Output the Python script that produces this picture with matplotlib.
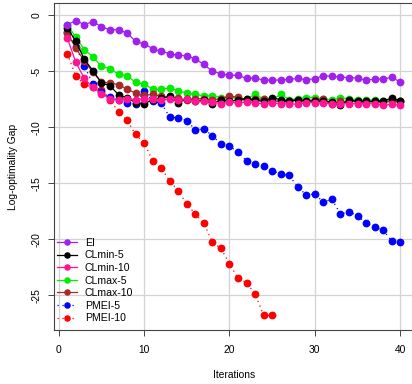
import numpy as np
import matplotlib
matplotlib.use("Agg")
import matplotlib.pyplot as plt

plt.rcParams['font.family'] = ['Liberation Sans', 'DejaVu Sans']

# values (log-optimality gap per iteration)
ei = [-0.85, -0.49, -0.85, -0.58, -1.05, -1.3, -1.3, -1.6, -2.34, -2.57,
      -2.99, -3.23, -3.44, -3.59, -3.62, -3.91, -4.4, -5.02, -5.22, -5.37,
      -5.37, -5.64, -5.61, -5.79, -5.79, -5.79, -5.73, -5.64, -5.76, -5.67,
      -5.4, -5.46, -5.52, -5.58, -5.61, -5.82, -5.7, -5.7, -5.55, -5.96]
clmin5 = [-1.14, -2.34, -3.95, -4.95, -6.05, -6.3, -7.1, -7.4, -7.8, -7.9,
          -7.55, -7.4, -7.25, -7.85, -7.45, -7.7, -7.6, -7.93, -7.55, -7.7,
          -7.55, -7.45, -7.55, -7.7, -7.35, -7.55, -7.65, -7.55, -7.65, -7.65,
          -7.7, -7.75, -8.05, -7.55, -7.7, -7.7, -7.7, -7.65, -7.4, -7.63]
clmin10 = [-2.04, -4.22, -5.65, -6.44, -7.0, -7.46, -7.55, -7.45, -7.54, -7.45,
           -7.5, -7.55, -7.5, -7.6, -7.5, -7.7, -7.7, -7.75, -7.9, -7.75,
           -7.85, -7.75, -7.85, -7.9, -7.85, -7.9, -7.9, -7.95, -7.8, -7.8,
           -7.85, -7.9, -7.9, -7.9, -7.9, -7.9, -7.9, -8.05, -7.95, -8.05]
clmax5 = [-0.85, -1.98, -3.08, -3.74, -4.57, -4.78, -5.28, -5.4, -6.0, -6.15,
          -6.6, -6.62, -6.5, -6.75, -6.95, -7.07, -7.2, -7.2, -7.35, -7.3,
          -7.45, -7.5, -7.05, -7.5, -7.55, -7.05, -7.55, -7.45, -7.35, -7.35,
          -7.5, -7.55, -7.4, -7.45, -7.55, -7.6, -7.55, -7.65, -7.65, -7.7]
clmax10 = [-1.6, -2.95, -4.1, -5.1, -5.95, -6.05, -6.2, -6.6, -6.95, -7.15,
           -7.05, -7.25, -7.35, -7.4, -7.6, -7.45, -7.45, -7.55, -7.45, -7.25,
           -7.3, -7.55, -7.45, -7.5, -7.7, -7.65, -7.65, -7.55, -7.65, -7.55,
           -7.5, -7.9, -7.7, -7.7, -7.65, -7.7, -7.7, -7.75, -7.65, -7.7]
pmei5 = [-1.5, -2.8, -4.55, -6.12, -6.9, -7.3, -7.6, -7.85, -7.9, -6.74,
         -7.7, -7.84, -9.09, -9.18, -9.4, -10.22, -10.16, -10.76, -11.5, -11.65,
         -12.25, -12.99, -13.29, -13.44, -13.86, -14.18, -14.3, -15.34, -16.03, -15.94,
         -16.68, -16.41, -17.75, -17.52, -17.9, -18.53, -18.91, -19.18, -20.11, -20.25]
pmei10 = [-3.44, -5.46, -6.18, -6.45, -6.65, -7.6, -8.6, -9.39, -10.63, -11.41,
          -12.99, -13.66, -14.77, -15.68, -16.86, -17.75, -18.57, -20.26, -20.8, -22.19,
          -23.44, -23.86, -24.87, -26.77, -26.77]

it40 = np.arange(1, 41)
it25 = np.arange(1, 26)

fig = plt.figure(figsize=(4.12, 3.84), dpi=100)
ax = fig.add_axes([54 / 412, 1 - 330 / 384, 359.5 / 412, 327 / 384])

for v in [0, 10, 20, 30, 40]:
    ax.axvline(v, color='#d3d3d3', lw=0.9, zorder=0)
for v in [0, -5, -10, -15, -20, -25]:
    ax.axhline(v, color='#d3d3d3', lw=0.9, zorder=0)

ms = 4.6
lw = 0.9
h_red, = ax.plot(it25, pmei10, ls=(0, (1, 3)), color='#ff0000', marker='o', ms=ms, lw=lw, zorder=1)
h_blue, = ax.plot(it40, pmei5, ls=(0, (1, 3)), color='#0000ff', marker='o', ms=ms, lw=lw, zorder=2)
h_green, = ax.plot(it40, clmax5, color='#00ee00', marker='o', ms=ms, lw=lw, zorder=3)
h_brown, = ax.plot(it40, clmax10, color='#a52a2a', marker='o', ms=ms, lw=lw, zorder=4)
h_black, = ax.plot(it40, clmin5, color='black', marker='o', ms=ms, lw=lw, zorder=5)
h_pink, = ax.plot(it40, clmin10, color='#ff1493', marker='o', ms=ms, lw=lw, zorder=6)
h_ei, = ax.plot(it40, ei, color='#a020f0', marker='o', ms=ms, lw=lw, zorder=7)

ax.set_xlim(-0.56, 41.56)
ax.set_ylim(-28.08, 1.08)
ax.set_xticks([0, 10, 20, 30, 40])
ax.set_yticks([0, -5, -10, -15, -20, -25])
ax.set_yticklabels(['0', '-5', '-10', '-15', '-20', '-25'], rotation=90, va='center')
ax.tick_params(labelsize=7.4, length=4, width=0.7, color='#444444')
ax.tick_params(axis='x', pad=6.5)
ax.tick_params(axis='y', pad=5)
for s in ax.spines.values():
    s.set_color('#444444')
    s.set_linewidth(0.8)

ax.set_xlabel('Iterations', fontsize=7.4, labelpad=11)
ax.set_ylabel('Log-optimality Gap', fontsize=7.4, labelpad=9.5)

ax.legend([h_ei, h_black, h_pink, h_green, h_brown, h_blue, h_red],
          ['EI', 'CLmin-5', 'CLmin-10', 'CLmax-5', 'CLmax-10', 'PMEI-5', 'PMEI-10'],
          loc='lower left', bbox_to_anchor=(0.008, 0.02), frameon=False,
          fontsize=7.6, handlelength=1.9, handletextpad=0.75, labelspacing=0.25,
          borderpad=0, borderaxespad=0, markerscale=0.8)

fig.savefig('out.png', dpi=100)
